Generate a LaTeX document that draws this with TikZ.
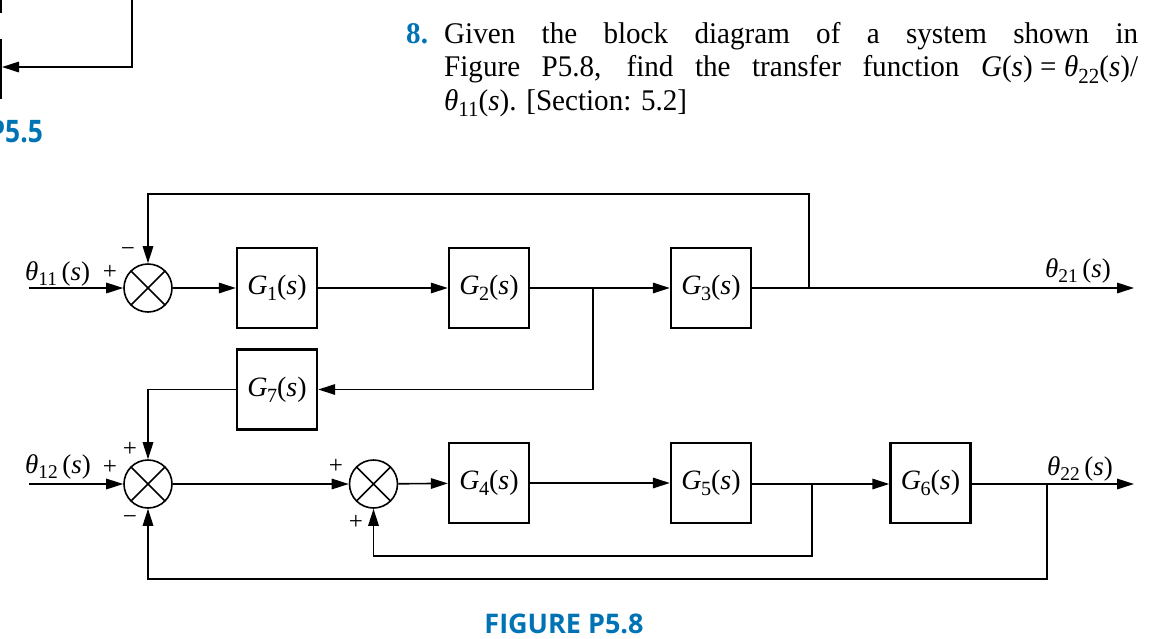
\documentclass[tikz,border=0pt]{standalone}
\usepackage{fontspec}
\setmainfont{Liberation Serif}
\newfontfamily\cond[FakeStretch=0.97]{Liberation Serif}
\newfontfamily\capfont{Open Sans}
\newfontfamily\capnarrow[FakeStretch=0.85]{Open Sans}
\usetikzlibrary{arrows.meta}
\definecolor{pblue}{RGB}{0,115,180}
\newcommand{\sbs}[1]{\raisebox{-0.22em}{\scalebox{0.72}{#1}}}
\newcommand{\Gs}[1]{\textit{G}\kern-0.02em\sbs{#1}(\textit{s})}
\newcommand{\Th}[1]{\textit{θ}\sbs{#1}\,(\textit{s})}
\tikzset{
  ln/.style={line width=1.6pt},
  arr/.style={line width=1.6pt,-{Triangle[length=17pt,width=10.5pt]}},
  blk/.style={draw,line width=2.4pt,minimum width=80pt,minimum height=80pt,inner sep=0pt,font=\fontsize{28}{30}\selectfont},
  sumnode/.style={circle,draw,line width=1.6pt,minimum size=48pt,inner sep=0pt,
    path picture={\draw[line width=1.6pt] (path picture bounding box.south west)--(path picture bounding box.north east)
      (path picture bounding box.north west)--(path picture bounding box.south east);}},
  sgn/.style={inner sep=0pt,font=\fontsize{25}{27}\selectfont},
  lab/.style={inner sep=0pt,anchor=base west,font=\fontsize{27}{30}\selectfont},
  para/.style={inner sep=0pt,anchor=base west,font=\cond\fontsize{30}{33}\selectfont}
}
\begin{document}
\begin{tikzpicture}[x=1pt,y=-1pt]
\useasboundingbox (0,0) rectangle (1165,638);
% fragments of previous figure
\draw[ln] (-40,-10) rectangle (1,12);
\draw[ln] (-40,40) rectangle (1,98);
\coordinate (fa) at (132,0);
\coordinate (fb) at (132,67);
\coordinate (fc) at (2,67);
\draw[arr] (fa) -- (fb) -- (fc);
\node[inner sep=0pt,anchor=base east,text=pblue,font=\capnarrow\bfseries\fontsize{31}{33}\selectfont] (p55) at (43,142) {P5.5};
% problem text
\node[para,text=pblue,font=\cond\bfseries\fontsize{30}{33}\selectfont] (num) at (406,43) {8.};
\node[para] (l1) at (444,43) {\makebox[694pt][s]{Given the block diagram of a system shown in}};
\node[para] (l2) at (444,76.5) {\makebox[694pt][s]{Figure P5.8, find the transfer function \textit{G}(\textit{s})\kern0.25em=\kern0.25em\textit{θ}\sbs{22}(\textit{s})/}};
\node[para] (l3) at (444,110) {\textit{θ}\sbs{11}(\textit{s}). [Section: 5.2]};
% top row
\node[sumnode] (s1) at (148,288) {};
\node[blk] (g1) at (277,288) {\Gs{1}};
\node[blk] (g2) at (489,288) {\Gs{2}};
\node[blk] (g3) at (711,288) {\Gs{3}};
\node[blk] (g7) at (277,389.5) {\Gs{7}};
% bottom row
\node[sumnode] (s2) at (148,484) {};
\node[sumnode] (s3) at (373.5,484) {};
\node[blk] (g4) at (489,483) {\Gs{4}};
\node[blk] (g5) at (711,483) {\Gs{5}};
\node[blk] (g6) at (930.5,483) {\Gs{6}};
% coordinates
\coordinate (in1) at (29,288);
\coordinate (in2) at (29,484);
\coordinate (out1) at (1134,288);
\coordinate (out2) at (1134,484);
\coordinate (b1) at (593,288);
\coordinate (b2) at (809,288);
\coordinate (t1) at (809,194);
\coordinate (b3) at (812,484);
\coordinate (d3) at (812,556);
\coordinate (b4) at (1047,484);
\coordinate (d4) at (1047,579);
% connectors top
\draw[arr] (in1) -- (s1);
\draw[arr] (s1) -- (g1);
\draw[arr] (g1) -- (g2);
\draw[arr] (g2) -- (g3);
\draw[arr] (g3) -- (out1);
\draw[arr] (b2) -- (t1) -| (s1.north);
\draw[arr] (b1) |- (g7.east);
\draw[arr] (g7.west) -| (s2.north);
% connectors bottom
\draw[arr] (in2) -- (s2);
\draw[arr] (s2) -- (s3);
\draw[arr] (s3) -- (g4);
\draw[arr] (g4) -- (g5);
\draw[arr] (g5.east |- b3) -- (g6.west |- b3);
\draw[arr] (g6.east |- b4) -- (out2);
\draw[arr] (b3) -- (d3) -| (s3.south);
\draw[arr] (b4) -- (d4) -| (s2.south);
% signs
\node[sgn] (p1a) at (110,272) {+};
\node[sgn] (m1a) at (128,252) {\textminus};
\node[sgn] (p2a) at (130,449) {+};
\node[sgn] (p2b) at (110,467) {+};
\node[sgn] (m2a) at (130,520) {\textminus};
\node[sgn] (p3a) at (336,466) {+};
\node[sgn] (p3b) at (356,522) {+};
% signal labels
\node[lab] (th11) at (25,280) {\Th{11}};
\node[lab] (th12) at (25,473) {\Th{12}};
\node[lab] (th21) at (1045,277) {\Th{21}};
\node[lab] (th22) at (1047,475) {\Th{22}};
% caption
\node[inner sep=0pt,anchor=base,text=pblue,font=\capfont\bfseries\fontsize{27}{29}\selectfont] (cap) at (564,633) {FIGURE P5.8};
\end{tikzpicture}
\end{document}
